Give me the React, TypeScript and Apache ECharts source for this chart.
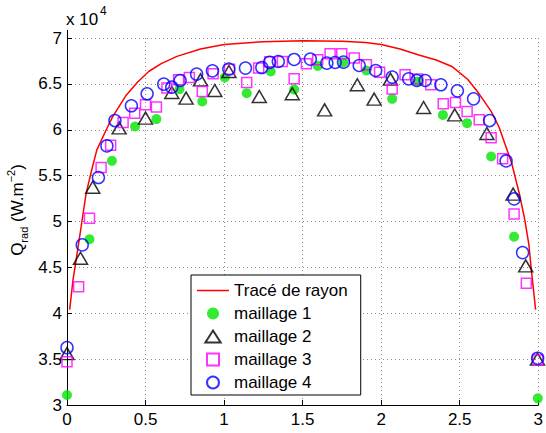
import React, { useEffect, useRef } from "react";
import * as echarts from "echarts";

const FONT = "'Liberation Sans', Arial, Helvetica, sans-serif";

const seriesNames = ["Tracé de rayon", "maillage 1", "maillage 2", "maillage 3", "maillage 4"];

// Tracé de rayon (x in m, Q in 1e4 W/m2)
const rayX = [0.017, 0.038, 0.066, 0.095, 0.122, 0.16, 0.19, 0.25, 0.29, 0.374, 0.45, 0.52, 0.6, 0.7, 0.85, 1.0, 1.25, 1.5, 1.75, 1.9, 2.0, 2.12, 2.24, 2.35, 2.45, 2.55, 2.62, 2.7, 2.75, 2.83, 2.88, 2.914, 2.94, 2.956, 2.983];
const rayY = [4.04, 4.36, 4.67, 5.0, 5.31, 5.58, 5.78, 6.0, 6.14, 6.37, 6.52, 6.635, 6.72, 6.8, 6.88, 6.93, 6.96, 6.97, 6.965, 6.95, 6.93, 6.88, 6.815, 6.76, 6.69, 6.55, 6.4, 6.2, 6.03, 5.64, 5.3, 5.02, 4.75, 4.47, 4.04];

// maillage 1
const m1X = [0, 0.143, 0.286, 0.433, 0.569, 0.716, 0.861, 1.004, 1.144, 1.297, 1.446, 1.596, 1.759, 1.906, 2.07, 2.232, 2.393, 2.547, 2.7, 2.846, 2.997];
const m1Y = [3.109, 4.807, 5.661, 6.035, 6.116, 6.443, 6.308, 6.569, 6.399, 6.635, 6.438, 6.697, 6.737, 6.646, 6.337, 6.526, 6.162, 6.072, 5.708, 4.835, 3.073];

// maillage 2
const m2X = [0, 0.086, 0.164, 0.332, 0.5, 0.667, 0.758, 0.85, 0.941, 1.031, 1.224, 1.434, 1.64, 1.848, 1.955, 2.059, 2.27, 2.468, 2.673, 2.84, 2.92, 2.995];
const m2Y = [3.56, 4.6, 5.374, 6.021, 6.127, 6.406, 6.345, 6.544, 6.428, 6.635, 6.362, 6.392, 6.217, 6.49, 6.334, 6.552, 6.242, 6.162, 5.959, 5.298, 4.516, 3.5];

// maillage 3
const m3X = [0, 0.074, 0.143, 0.217, 0.278, 0.357, 0.431, 0.5, 0.569, 0.636, 0.71, 0.779, 0.861, 0.93, 1.035, 1.144, 1.22, 1.291, 1.371, 1.446, 1.524, 1.596, 1.675, 1.749, 1.829, 1.906, 1.99, 2.07, 2.152, 2.232, 2.316, 2.395, 2.473, 2.547, 2.624, 2.7, 2.773, 2.846, 2.924, 2.997];
const m3Y = [3.472, 4.29, 5.036, 5.588, 5.832, 6.079, 6.181, 6.272, 6.247, 6.454, 6.544, 6.569, 6.417, 6.61, 6.66, 6.515, 6.672, 6.74, 6.744, 6.555, 6.72, 6.762, 6.828, 6.828, 6.781, 6.708, 6.628, 6.443, 6.599, 6.552, 6.49, 6.283, 6.297, 6.199, 6.108, 5.912, 5.683, 5.083, 4.327, 3.491];

// maillage 4
const m4X = [0, 0.097, 0.2, 0.254, 0.305, 0.41, 0.51, 0.616, 0.667, 0.72, 0.825, 0.926, 1.03, 1.136, 1.24, 1.29, 1.345, 1.446, 1.549, 1.654, 1.707, 1.76, 1.86, 1.965, 2.07, 2.175, 2.227, 2.28, 2.38, 2.485, 2.588, 2.69, 2.795, 2.846, 2.9, 2.996];
const m4Y = [3.625, 4.745, 5.479, 5.824, 6.1, 6.261, 6.392, 6.497, 6.464, 6.537, 6.606, 6.642, 6.661, 6.672, 6.678, 6.735, 6.744, 6.766, 6.77, 6.726, 6.733, 6.737, 6.7, 6.646, 6.574, 6.555, 6.537, 6.537, 6.49, 6.424, 6.337, 6.1, 5.66, 5.246, 4.661, 3.51];

const xMin = 0, xMax = 3, xStep = 0.5;
const yMin = 3, yMax = 7, yStep = 0.5;

const zip = (xs: number[], ys: number[]) => xs.map((x, i) => [x, ys[i]]);

export default function App() {
  const ref = useRef<HTMLDivElement>(null);
  useEffect(() => {
    if (!ref.current) return;
    const chart = echarts.init(ref.current, undefined, { renderer: "svg" });
    const gridLine = { show: true, lineStyle: { color: "#8c8c8c", type: [1, 3] as any, width: 1 } };
    const hollow = (c: string) => ({ color: "rgba(0,0,0,0)", borderColor: c, borderWidth: 1.5 });
    chart.setOption({
      animation: false,
      backgroundColor: "#fff",
      textStyle: { fontFamily: FONT },
      grid: { left: 67, right: 2, top: 38, bottom: 28, containLabel: false },
      xAxis: {
        type: "value", min: xMin, max: xMax, interval: xStep,
        axisLine: { show: true, onZero: false, lineStyle: { color: "#000", width: 1 } },
        axisTick: { show: true, inside: true, length: 5, lineStyle: { color: "#000" } },
        axisLabel: { color: "#000", fontSize: 17, fontFamily: FONT, margin: 6 },
        splitLine: gridLine,
      },
      yAxis: {
        type: "value", min: yMin, max: yMax, interval: yStep,
        axisLine: { show: true, onZero: false, lineStyle: { color: "#000", width: 1 } },
        axisTick: { show: true, inside: true, length: 5, lineStyle: { color: "#000" } },
        axisLabel: { color: "#000", fontSize: 17, fontFamily: FONT, margin: 5 },
        splitLine: gridLine,
      },
      legend: {
        orient: "vertical", left: 191, top: 275,
        itemWidth: 32, itemHeight: 12, itemGap: 6,
        padding: [7, 13, 4, 6],
        borderColor: "#000", borderWidth: 1, backgroundColor: "#fff",
        symbolKeepAspect: true,
        textStyle: { fontSize: 17, color: "#000", fontFamily: FONT, lineHeight: 16 },
        data: [
          { name: seriesNames[0], icon: "path://M0,0H32V1.5H0Z" },
          { name: seriesNames[1], icon: "circle" },
          { name: seriesNames[2], icon: "path://M7,0L14,11L0,11Z" },
          { name: seriesNames[3], icon: "path://M0,0H11V11H0Z" },
          { name: seriesNames[4], icon: "circle" },
        ],
      },
      graphic: [
        { type: "line", shape: { x1: 67.5, y1: 30, x2: 67.5, y2: 38 }, style: { stroke: "#000", lineWidth: 1 } },
        { type: "text", left: 66, top: 11, style: { text: "x 10", fontSize: 17, fontFamily: FONT, fill: "#000" } },
        { type: "text", left: 100, top: 5, style: { text: "4", fontSize: 12, fontFamily: FONT, fill: "#000" } },
        {
          type: "text", x: 17, y: 210, rotation: Math.PI / 2,
          style: {
            text: "{m|Q}{s|rad}{m| (W.m}{p|−2}{m|)}",
            align: "center", verticalAlign: "middle", fill: "#000",
            rich: {
              m: { fontSize: 17, fontFamily: FONT, lineHeight: 24, verticalAlign: "middle", fill: "#000" },
              s: { fontSize: 11, fontFamily: FONT, lineHeight: 11, verticalAlign: "bottom", fill: "#000" },
              p: { fontSize: 11, fontFamily: FONT, lineHeight: 11, verticalAlign: "top", fill: "#000" },
            },
          },
        },
      ],
      series: [
        {
          name: seriesNames[0], type: "line", data: zip(rayX, rayY), symbol: "none", showSymbol: false,
          lineStyle: { color: "#ff0000", width: 1.5 }, itemStyle: { color: "#ff0000" }, z: 2,
        },
        {
          name: seriesNames[1], type: "scatter", data: zip(m1X, m1Y), symbol: "circle", symbolSize: 10,
          itemStyle: { color: "#00e600" }, z: 3,
        },
        {
          name: seriesNames[2], type: "scatter", data: zip(m2X, m2Y), symbol: "triangle", symbolSize: [14, 12],
          itemStyle: hollow("#000000"), z: 4,
        },
        {
          name: seriesNames[3], type: "scatter", data: zip(m3X, m3Y), symbol: "rect", symbolSize: 10,
          itemStyle: hollow("#ff00ff"), z: 5,
        },
        {
          name: seriesNames[4], type: "scatter", data: zip(m4X, m4Y), symbol: "circle", symbolSize: 12,
          itemStyle: hollow("#0000ff"), z: 6,
        },
      ],
    });
    return () => chart.dispose();
  }, []);
  return <div ref={ref} style={{ width: 546, height: 433, position: "absolute", left: 0, top: 0 }} />;
}
